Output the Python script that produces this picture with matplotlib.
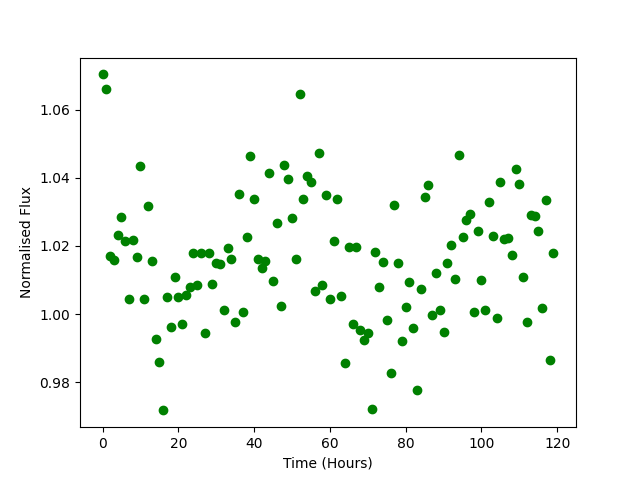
import numpy as np
import matplotlib
matplotlib.use('Agg')
import matplotlib.pyplot as plt

# time in hours, one reading per hour
hours = np.arange(120)

flux = [
    1.0703, 1.0659, 1.0171, 1.0159, 1.0232, 1.0285, 1.0215, 1.0044, 1.0218, 1.0168,
    1.0435, 1.0044, 1.0318, 1.0156, 0.9926, 0.9859, 0.9718, 1.0050, 0.9962, 1.0109,
    1.0050, 0.9971, 1.0056, 1.0079, 1.0179, 1.0085, 1.0180, 0.9944, 1.0180, 1.0088,
    1.0150, 1.0147, 1.0012, 1.0194, 1.0162, 0.9976, 1.0353, 1.0006, 1.0226, 1.0465,
    1.0338, 1.0162, 1.0135, 1.0156, 1.0415, 1.0097, 1.0268, 1.0024, 1.0438, 1.0397,
    1.0282, 1.0162, 1.0647, 1.0338, 1.0406, 1.0388, 1.0068, 1.0474, 1.0085, 1.0350,
    1.0044, 1.0215, 1.0338, 1.0053, 0.9856, 1.0197, 0.9971, 1.0197, 0.9953, 0.9924,
    0.9944, 0.9721, 1.0182, 1.0079, 1.0153, 0.9982, 0.9829, 1.0321, 1.0150, 0.9921,
    1.0021, 1.0094, 0.9959, 0.9779, 1.0074, 1.0344, 1.0379, 0.9997, 1.0121, 1.0012,
    0.9947, 1.0150, 1.0203, 1.0103, 1.0468, 1.0226, 1.0276, 1.0294, 1.0006, 1.0244,
    1.0100, 1.0012, 1.0329, 1.0229, 0.9988, 1.0388, 1.0221, 1.0224, 1.0174, 1.0426,
    1.0382, 1.0109, 0.9976, 1.0291, 1.0288, 1.0244, 1.0018, 1.0335, 0.9865, 1.0180,
]

fig, ax = plt.subplots(figsize=(6.4, 4.8), dpi=100)
ax.plot(hours, flux, 'o', color='green')

ax.set_xlabel('Time (Hours)')
ax.set_ylabel('Normalised Flux')

fig.savefig('out.png')
